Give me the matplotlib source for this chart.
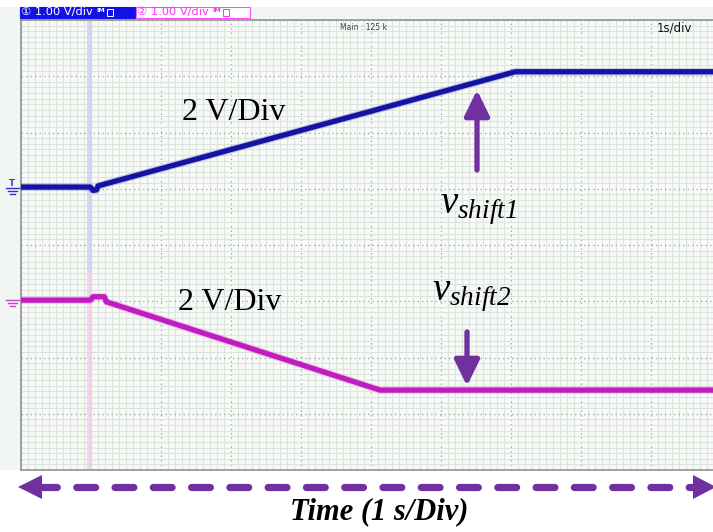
import matplotlib
matplotlib.use("Agg")
import matplotlib.pyplot as plt
import numpy as np
from matplotlib.lines import Line2D
from matplotlib.patches import Rectangle, Polygon
from matplotlib.ticker import MultipleLocator

plt.rcParams["mathtext.fontset"] = "custom"
plt.rcParams["mathtext.it"] = "Liberation Serif:italic"
plt.rcParams["mathtext.rm"] = "Liberation Serif:italic"

# ---- scope record: time in s (1 s/div), voltage in divisions (1.00 V/div) ----
ch1_t = [0.0, 0.99, 1.03, 1.08, 1.10, 7.06, 10.0]
ch1_v = [1.03, 1.03, 0.97, 0.98, 1.05, 3.08, 3.08]
ch2_t = [0.0, 0.99, 1.03, 1.19, 1.22, 5.13, 10.0]
ch2_v = [-0.98, -0.98, -0.92, -0.92, -1.01, -2.58, -2.58]
trigger_t = [0.94, 1.02]

ch1_label = "\u2460 1.00 V/div"
ch2_label = "\u2461 1.00 V/div"
scale_label = "2 V/Div"
time_label = "Time (1 s/Div)"

W, H = 713, 532
fig = plt.figure(figsize=(W / 100, H / 100), dpi=100)
fig.patch.set_facecolor("white")


def fx(x):
    return x / W


def fy(y):
    return 1 - y / H


def fig_line(x0, x1, y0, y1, **kw):
    fig.add_artist(Line2D([fx(x0), fx(x1)], [fy(y0), fy(y1)],
                          transform=fig.transFigure, **kw))


# instrument frame strips
fig.add_artist(Rectangle((0, fy(20)), 1, 13 / H, transform=fig.transFigure,
                         fc="#f2f6f2", ec="none", zorder=0))
fig.add_artist(Rectangle((0, fy(470)), fx(21), 450 / H, transform=fig.transFigure,
                         fc="#f2f6f2", ec="none", zorder=0))

# screen
ax = fig.add_axes([fx(21), fy(470), 700 / W, 450 / H])
ax.set_xlim(0, 10)
ax.set_ylim(-4, 4)
ax.set_facecolor("#f7faf7")
ax.xaxis.set_major_locator(MultipleLocator(1))
ax.yaxis.set_major_locator(MultipleLocator(1))
ax.xaxis.set_minor_locator(MultipleLocator(0.1))
ax.yaxis.set_minor_locator(MultipleLocator(0.1))
ax.grid(which="minor", color="#dde4dd", lw=0.8)
ax.grid(which="major", color="#a8aca8", lw=0.9, linestyle=(0, (1.2, 2.4)))
ax.set_axisbelow(True)
ax.tick_params(which="both", length=0, labelbottom=False, labelleft=False)
for s in ax.spines.values():
    s.set_color("#8a8a8a")
    s.set_linewidth(1.1)

# trigger marker band
ax.axvspan(trigger_t[0], trigger_t[1], ymin=0.44, ymax=1, color="#d4d4f2", alpha=0.9, lw=0, zorder=1)
ax.axvspan(trigger_t[0], trigger_t[1], ymin=0, ymax=0.44, color="#f3d1ee", alpha=0.9, lw=0, zorder=1)
ax.axvline(np.mean(trigger_t), color="#c0c0dc", lw=0.6, ls=(0, (1, 2)), zorder=1)

# traces
ax.plot(ch1_t, ch1_v, color="#6a6ad8", lw=5.4, alpha=0.35, solid_joinstyle="round", zorder=3)
ax.plot(ch1_t, ch1_v, color="#1414a2", lw=3.8, solid_joinstyle="round", zorder=4)
ax.plot(ch2_t, ch2_v, color="#e27ae2", lw=5.4, alpha=0.35, solid_joinstyle="round", zorder=3)
ax.plot(ch2_t, ch2_v, color="#c01cc0", lw=3.8, solid_joinstyle="round", zorder=4)


def px(x, y):
    """Screen pixel position -> scope coordinates."""
    return (x - 21) / 70.0, (245 - y) / 56.25


# annotations
ax.text(*px(234, 120), scale_label, ha="center", va="baseline",
        fontfamily="Liberation Serif", fontsize=23, zorder=6)
ax.text(*px(230, 310), scale_label, ha="center", va="baseline",
        fontfamily="Liberation Serif", fontsize=23, zorder=6)
ax.text(*px(440, 213), r"$v_{shift1}$", ha="left", va="baseline",
        fontsize=28, zorder=6)
ax.text(*px(432, 300), r"$v_{shift2}$", ha="left", va="baseline",
        fontsize=28, zorder=6)

arrow_kw = dict(arrowstyle="-|>,head_length=0.78,head_width=0.38", color="#7030a0",
                lw=3.8, mutation_scale=20, shrinkA=0, shrinkB=0)
ax.annotate("", xy=px(477, 90), xytext=px(477, 170), arrowprops=arrow_kw, zorder=7)
ax.annotate("", xy=px(467, 386), xytext=px(467, 332), arrowprops=arrow_kw, zorder=7)

# left ground markers
blue, mag = "#3030d0", "#d040d0"
fig.text(fx(12), fy(183), "T", color=blue, fontsize=6, ha="center", va="center", fontweight="bold")
for y, a, b in [(188, 6, 19), (191, 8, 17), (194, 10, 15)]:
    fig_line(a, b, y, y, color=blue, lw=1.0)
for y, a, b in [(300, 6, 19), (303, 8, 17), (306, 10, 15)]:
    fig_line(a, b, y, y, color=mag, lw=1.0)

# header boxes
fig.add_artist(Rectangle((fx(20), fy(18)), 115 / W, 11 / H, transform=fig.transFigure,
                         fc="#1212e6", ec="#1212e6", lw=0.8))
fig.add_artist(Rectangle((fx(136), fy(18)), 114 / W, 11 / H, transform=fig.transFigure,
                         fc="white", ec="#ff4cff", lw=0.8))
fig.text(fx(21), fy(12.5), ch1_label, color="white", fontsize=8.2, va="center",
         family=["DejaVu Sans", "Noto Sans CJK SC"])
fig.text(fx(137), fy(12.5), ch2_label, color="#ff30ff", fontsize=8.2, va="center",
         family=["DejaVu Sans", "Noto Sans CJK SC"])
for x0, col in [(96, "white"), (212, "#ff30ff")]:
    fig.text(fx(x0), fy(11), "IM", color=col, fontsize=4.5, va="center", fontweight="bold")
    fig.add_artist(Rectangle((fx(x0 + 11), fy(16)), 6 / W, 7 / H, transform=fig.transFigure,
                             fc="none", ec=col, lw=0.7))

fig.text(fx(340), fy(27), "Main : 125 k", fontsize=5.5, color="#444444", va="center")
fig.text(fx(657), fy(28), "1s/div", fontsize=8.5, color="#111111", va="center")

# time axis arrow
purple = "#7030a0"
fig_line(38, 694, 487, 487, color=purple, lw=5.2, dashes=(2.6, 2.7), dash_capstyle="round")
fig.add_artist(Polygon([[fx(18), fy(487)], [fx(42), fy(475)], [fx(42), fy(499)]],
                       closed=True, transform=fig.transFigure, fc=purple, ec="none"))
fig.add_artist(Polygon([[fx(716), fy(487)], [fx(693), fy(475)], [fx(693), fy(499)]],
                       closed=True, transform=fig.transFigure, fc=purple, ec="none"))
fig.text(fx(379), fy(512), time_label, ha="center", va="center", fontsize=22,
         fontfamily="Liberation Serif", fontweight="bold", fontstyle="italic")

fig.savefig("out.png", dpi=100)
